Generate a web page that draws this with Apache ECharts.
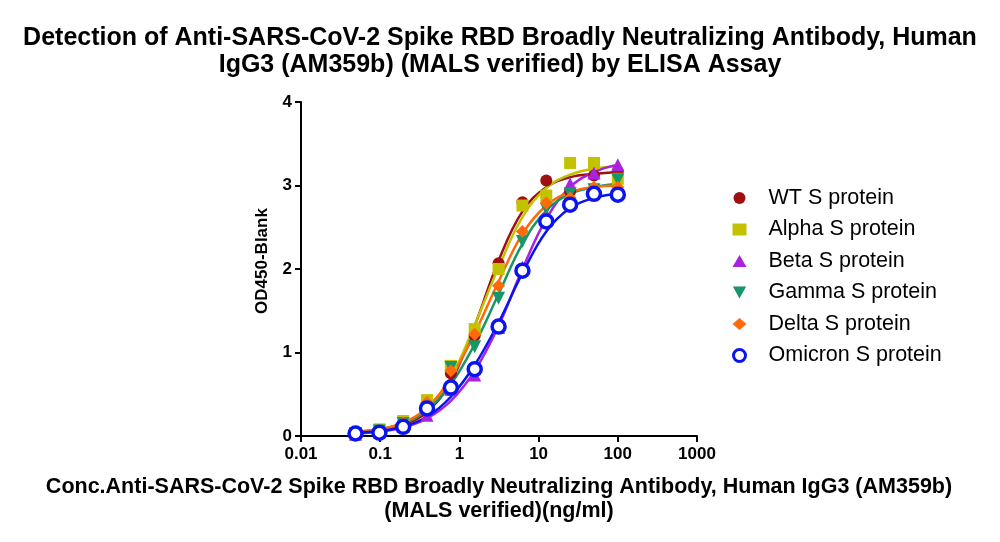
<!DOCTYPE html>
<html>
<head>
<meta charset="utf-8">
<script src="https://cdn.jsdelivr.net/npm/echarts@6/dist/echarts.min.js"></script>
<style>html,body{margin:0;padding:0;background:#fff}#c{width:1000px;height:542px}</style>
</head>
<body>
<div id="c"></div>
<script>
// Concentrations (ng/ml)
var conc = [0.0488, 0.0977, 0.195, 0.39, 0.78, 1.56, 3.125, 6.25, 12.5, 25, 50, 100];
var xTicks = ['0.01', '0.1', '1', '10', '100', '1000'];
var yTicks = [0, 1, 2, 3, 4];
var seriesNames = ['WT S protein', 'Alpha S protein', 'Beta S protein', 'Gamma S protein', 'Delta S protein', 'Omicron S protein'];

// Measured points (OD450-Blank)
var wtPts      = [0.03, 0.06, 0.15, 0.36, 0.75, 1.20, 2.07, 2.80, 3.06, 2.93, 3.12, 3.17];
var alphaPts   = [0.03, 0.08, 0.18, 0.43, 0.84, 1.28, 2.00, 2.76, 2.88, 3.27, 3.27, 3.08];
var betaPts    = [0.02, 0.05, 0.12, 0.25, 0.56, 0.73, 1.30, 2.02, 2.65, 3.02, 3.15, 3.25];
var gammaPts   = [0.03, 0.06, 0.15, 0.33, 0.82, 1.07, 1.65, 2.33, 2.72, 2.90, 2.95, 3.07];
var deltaPts   = [0.04, 0.06, 0.16, 0.40, 0.78, 1.22, 1.80, 2.45, 2.79, 2.85, 2.98, 2.98];
var omicronPts = [0.03, 0.04, 0.11, 0.33, 0.58, 0.80, 1.31, 1.98, 2.57, 2.77, 2.90, 2.89];

// Fitted curves at each concentration
var wtFit      = [0.05, 0.07, 0.13, 0.29, 0.65, 1.32, 2.10, 2.69, 2.98, 3.10, 3.14, 3.16];
var alphaFit   = [0.05, 0.08, 0.15, 0.32, 0.70, 1.33, 2.02, 2.62, 2.97, 3.13, 3.20, 3.23];
var betaFit    = [0.03, 0.05, 0.10, 0.21, 0.42, 0.78, 1.32, 2.00, 2.60, 2.98, 3.16, 3.25];
var gammaFit   = [0.05, 0.08, 0.15, 0.31, 0.62, 1.10, 1.70, 2.30, 2.70, 2.90, 2.98, 3.02];
var deltaFit   = [0.05, 0.08, 0.16, 0.34, 0.70, 1.23, 1.85, 2.42, 2.76, 2.92, 2.98, 3.00];
var omicronFit = [0.04, 0.06, 0.11, 0.23, 0.47, 0.85, 1.36, 1.95, 2.45, 2.73, 2.85, 2.90];

var colors = ['#9E0F0F', '#C2C200', '#A922E0', '#15976A', '#FF6A0A', '#0A14F0'];
var symbols = ['circle', 'rect', 'triangle', 'path://M0,0 L10,0 L5,9 Z', 'diamond', 'circle'];
var sizes = [12, 12, 13, 13, 13, 13];
var pts = [wtPts, alphaPts, betaPts, gammaPts, deltaPts, omicronPts];
var fits = [wtFit, alphaFit, betaFit, gammaFit, deltaFit, omicronFit];

function pairs(arr) { return conc.map(function (c, i) { return [c, arr[i]]; }); }

var series = [];
for (var i = 0; i < seriesNames.length; i++) {
  series.push({
    name: seriesNames[i] + ' fit',
    type: 'line',
    data: pairs(fits[i]),
    smooth: 0.4,
    showSymbol: false,
    lineStyle: { color: colors[i], width: 2.5 },
    itemStyle: { color: colors[i] },
    z: 2,
    silent: true
  });
}
for (var j = 0; j < seriesNames.length; j++) {
  series.push({
    name: seriesNames[j],
    type: 'scatter',
    data: pairs(pts[j]),
    symbol: symbols[j],
    symbolSize: sizes[j],
    itemStyle: j === 5
      ? { color: '#fff', borderColor: colors[j], borderWidth: 3.5, opacity: 1 }
      : { color: colors[j], opacity: 1 },
    z: 3
  });
}

var legendData = seriesNames.map(function (n, k) {
  return k === 5 ? { name: n, itemStyle: { color: '#fff', borderColor: colors[5], borderWidth: 3 } } : { name: n };
});

var font = "'Liberation Sans', Arial, sans-serif";
var chart = echarts.init(document.getElementById('c'), null, { renderer: 'canvas' });
chart.setOption({
  animation: false,
  backgroundColor: '#fff',
  title: {
    text: 'Detection of Anti-SARS-CoV-2 Spike RBD Broadly Neutralizing Antibody, Human\nIgG3 (AM359b) (MALS verified) by ELISA Assay',
    left: 'center',
    top: 20,
    textStyle: { fontFamily: font, fontSize: 25, fontWeight: 'bold', color: '#000', lineHeight: 27 }
  },
  legend: {
    data: legendData,
    orient: 'vertical',
    left: 727,
    top: 182,
    itemGap: 9.5,
    itemWidth: 14,
    itemHeight: 12,
    textStyle: { fontFamily: font, fontSize: 21.5, color: '#000', padding: [0, 0, 0, 17] }
  },
  grid: { left: 301, right: 303, top: 102, bottom: 106, containLabel: false },
  xAxis: {
    type: 'log',
    logBase: 10,
    min: 0.01,
    max: 1000,
    name: 'Conc.Anti-SARS-CoV-2 Spike RBD Broadly Neutralizing Antibody, Human IgG3 (AM359b)\n(MALS verified)(ng/ml)',
    nameLocation: 'middle',
    nameGap: 39,
    nameTextStyle: { fontFamily: font, fontSize: 21.5, fontWeight: 'bold', color: '#000', lineHeight: 24 },
    axisLine: { lineStyle: { color: '#000', width: 2 } },
    axisTick: { show: true, length: 6, lineStyle: { color: '#000', width: 2 } },
    minorTick: { show: false },
    splitLine: { show: false },
    axisLabel: {
      margin: 10,
      fontFamily: font, fontSize: 17, fontWeight: 'bold', color: '#000',
      formatter: function (v) {
        var e = Math.round(Math.log10(v));
        return xTicks[e + 2];
      }
    }
  },
  yAxis: {
    type: 'value',
    min: 0,
    max: 4,
    interval: 1,
    name: 'OD450-Blank',
    nameLocation: 'middle',
    nameGap: 30,
    nameTextStyle: { fontFamily: font, fontSize: 17, fontWeight: 'bold', color: '#000', padding: [0, 0, 0, 16] },
    axisLine: { show: true, lineStyle: { color: '#000', width: 2 } },
    axisTick: { show: true, length: 6, lineStyle: { color: '#000', width: 2 } },
    splitLine: { show: false },
    axisLabel: {
      margin: 9,
      fontFamily: font, fontSize: 17, fontWeight: 'bold', color: '#000',
      formatter: function (v) { return yTicks.indexOf(v) >= 0 ? String(v) : ''; }
    }
  },
  series: series
});
</script>
</body>
</html>
